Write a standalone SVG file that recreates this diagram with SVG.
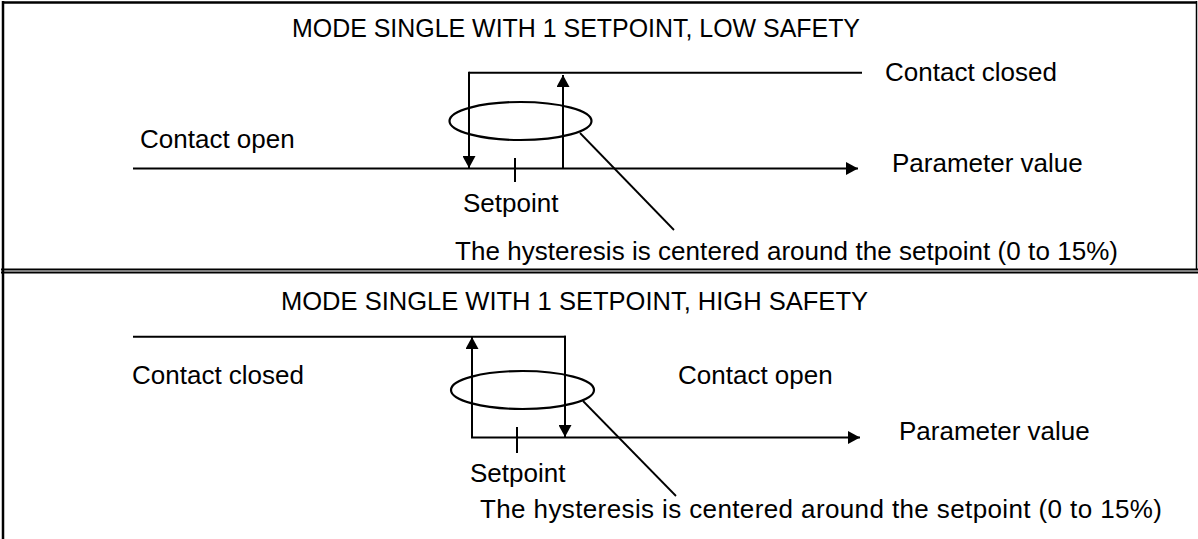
<svg xmlns="http://www.w3.org/2000/svg" width="1198" height="539" viewBox="0 0 1198 539">
<style>
  .t { font-family: "Liberation Sans", Arial, sans-serif; font-size: 26px; fill: #000; }
  .ln { stroke: #000; stroke-width: 2; fill: none; }
  .fr { stroke: #000; stroke-width: 2.5; fill: none; }
  .el { stroke: #000; stroke-width: 2.2; fill: none; }
  .ld { stroke: #000; stroke-width: 1.8; fill: none; }
</style>
<defs>
  <marker id="ah" viewBox="0 0 12 13" refX="12" refY="6.5" markerWidth="12" markerHeight="13" markerUnits="userSpaceOnUse" orient="auto">
    <path d="M0,0 L12,6.5 L0,13 Z" fill="#000"/>
  </marker>
</defs>
<rect width="1198" height="539" fill="#fff"/>
<g id="frame">
  <line class="fr" x1="3" y1="2.5" x2="1197" y2="2.5"/>
  <line class="fr" x1="3" y1="1" x2="3" y2="539"/>
  <line x1="1196.5" y1="1" x2="1196.5" y2="270" stroke="#000" stroke-width="1.5"/>
  <line x1="1" y1="269.5" x2="1198" y2="269.5" stroke="#000" stroke-width="2"/>
  <line x1="1" y1="272.5" x2="1198" y2="272.5" stroke="#000" stroke-width="2"/>
</g>
<g id="panel-low">
  <g id="low-title"><text class="t" x="292" y="37" textLength="568" lengthAdjust="spacingAndGlyphs">MODE SINGLE WITH 1 SETPOINT, LOW SAFETY</text></g>
  <g id="low-closed"><text class="t" x="885" y="81">Contact closed</text></g>
  <g id="low-open"><text class="t" x="140" y="148">Contact open</text></g>
  <g id="low-param"><text class="t" x="892" y="172">Parameter value</text></g>
  <g id="low-setpoint"><text class="t" x="463" y="212">Setpoint</text></g>
  <g id="low-hyst"><text class="t" x="455" y="260" textLength="663" lengthAdjust="spacing">The hysteresis is centered around the setpoint (0 to 15%)</text></g>
  <g id="low-ellipse"><ellipse class="el" cx="520.5" cy="121" rx="71" ry="19"/></g>
</g>
<g id="panel-high">
  <g id="high-title"><text class="t" x="281" y="310" textLength="587" lengthAdjust="spacingAndGlyphs">MODE SINGLE WITH 1 SETPOINT, HIGH SAFETY</text></g>
  <g id="high-closed"><text class="t" x="132" y="384">Contact closed</text></g>
  <g id="high-open"><text class="t" x="678" y="384">Contact open</text></g>
  <g id="high-param"><text class="t" x="899" y="440">Parameter value</text></g>
  <g id="high-setpoint"><text class="t" x="470" y="482">Setpoint</text></g>
  <g id="high-hyst"><text class="t" x="480" y="518" textLength="682" lengthAdjust="spacing">The hysteresis is centered around the setpoint (0 to 15%)</text></g>
  <g id="high-ellipse"><ellipse class="el" cx="522.5" cy="390" rx="71.5" ry="19"/></g>
</g>
<g id="connectors">
  <line class="ln" x1="469" y1="72.7" x2="862" y2="72.7"/>
  <line class="ln" x1="469" y1="71.7" x2="469" y2="168" marker-end="url(#ah)"/>
  <line class="ln" x1="563" y1="168" x2="563" y2="75" marker-end="url(#ah)"/>
  <line class="ln" x1="133" y1="168.5" x2="858" y2="168.5" marker-end="url(#ah)"/>
  <line class="ln" x1="515" y1="158" x2="515" y2="182"/>
  <line class="ld" x1="580" y1="133" x2="674" y2="230"/>
  <line class="ln" x1="133" y1="336.7" x2="566" y2="336.7"/>
  <line class="ln" x1="472" y1="437.5" x2="472" y2="337" marker-end="url(#ah)"/>
  <line class="ln" x1="565" y1="335.7" x2="565" y2="437" marker-end="url(#ah)"/>
  <line class="ln" x1="471" y1="437.5" x2="860" y2="437.5" marker-end="url(#ah)"/>
  <line class="ln" x1="517" y1="427" x2="517" y2="453"/>
  <line class="ld" x1="583" y1="401" x2="676" y2="496"/>
</g>
</svg>
